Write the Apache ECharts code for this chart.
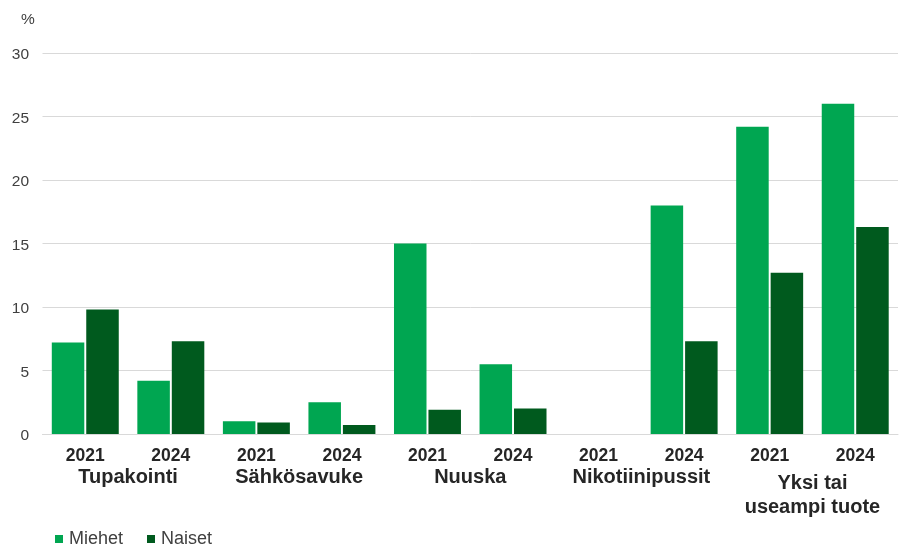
<!DOCTYPE html>
<html>
<head>
<meta charset="utf-8">
<script src="https://cdn.jsdelivr.net/npm/echarts@6/dist/echarts.min.js"></script>
<style>html,body{margin:0;padding:0;background:#fff;}#chart{width:906px;height:550px;}</style>
</head>
<body>
<div id="chart"></div>
<script>
const years = ['2021','2024','2021','2024','2021','2024','2021','2024','2021','2024'];
const groups = ['Tupakointi','Sähkösavuke','Nuuska','Nikotiinipussit','Yksi tai\nuseampi tuote'];
const miehet = [7.2, 4.2, 1.0, 2.5, 15.0, 5.5, null, 18.0, 24.2, 26.0];
const naiset = [9.8, 7.3, 0.9, 0.7, 1.9, 2.0, null, 7.3, 12.7, 16.3];
const yTicks = [0, 5, 10, 15, 20, 25, 30];
const seriesNames = ['Miehet','Naiset'];

const FONT = '"Liberation Sans", Arial, sans-serif';
const chart = echarts.init(document.getElementById('chart'), null, {renderer:'canvas'});
chart.setOption({
  animation: false,
  title: {
    text: '%', left: 16, top: 7,
    textStyle: {fontFamily: FONT, fontSize: 15.5, fontWeight: 'normal', color: '#404040'}
  },
  legend: {
    left: 50, top: 525, icon: 'rect', itemWidth: 8, itemHeight: 8, itemGap: 24,
    data: seriesNames,
    textStyle: {fontFamily: FONT, fontSize: 18, color: '#404040', padding: [0,0,0,1]}
  },
  grid: {left: 42.5, right: 8, top: 53, bottom: 116, containLabel: false},
  xAxis: [
    {
      type: 'category', data: years, position: 'bottom',
      axisLine: {show: true, lineStyle: {color: '#d9d9d9', width: 1}},
      axisTick: {show: false},
      axisLabel: {fontFamily: FONT, fontSize: 17.5, fontWeight: 'bold', color: '#262626', margin: 13.5, interval: 0}
    },
    {
      type: 'category', position: 'bottom',
      data: groups.map((g, i) => i === groups.length - 1
        ? {value: g, textStyle: {padding: [6, 0, 0, 0]}}
        : g),
      axisLine: {show: false}, axisTick: {show: false}, splitLine: {show: false},
      axisLabel: {fontFamily: FONT, fontSize: 20, fontWeight: 'bold', color: '#262626', margin: 31, lineHeight: 24, interval: 0}
    }
  ],
  yAxis: {
    type: 'value', min: yTicks[0], max: yTicks[yTicks.length-1], interval: 5,
    axisLine: {show: false}, axisTick: {show: false},
    splitLine: {lineStyle: {color: '#d9d9d9', width: 1}},
    axisLabel: {
      fontFamily: FONT, fontSize: 15.5, color: '#404040', margin: 13.5,
      formatter: '{v|{value}}',
      rich: {v: {fontFamily: FONT, fontSize: 15.5, color: '#404040', padding: [4, 0, 0, 0]}}
    }
  },
  series: [
    {name: seriesNames[0], type: 'bar', data: miehet, xAxisIndex: 0, barWidth: '38%', barGap: '6%',
     itemStyle: {color: '#00A651'}},
    {name: seriesNames[1], type: 'bar', data: naiset, xAxisIndex: 0, barWidth: '38%', barGap: '6%',
     itemStyle: {color: '#005A1E'}}
  ]
});
</script>
</body>
</html>
